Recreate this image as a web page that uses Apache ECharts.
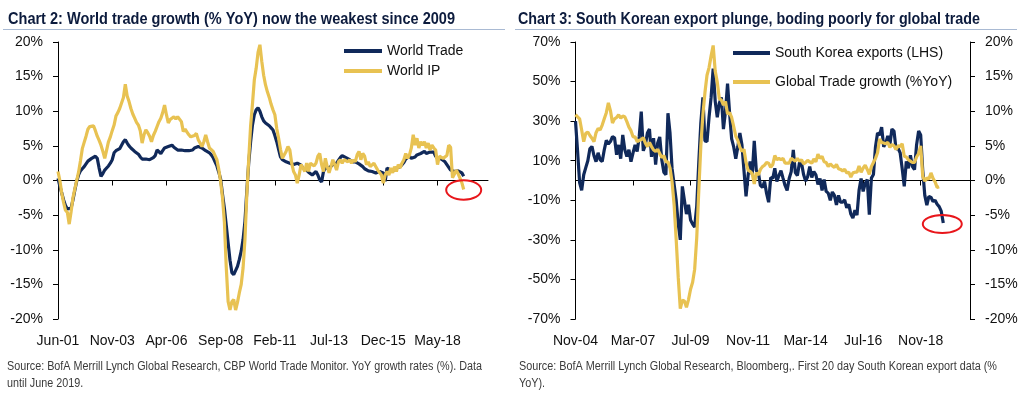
<!DOCTYPE html>
<html><head><meta charset="utf-8">
<script src="https://cdn.jsdelivr.net/npm/echarts@6/dist/echarts.min.js"></script>
<style>html,body{margin:0;padding:0;background:#fff}#c{width:1024px;height:397px}</style>
</head><body><div id="c"></div>
<script>
// ---- Chart 2 data (monthly, from Jun-01) ----
const worldTrade = [0.3,-0.8,-1.8,-2.8,-3.6,-4.1,-4.2,-4.0,-2.8,-1.4,
-0.1,0.8,1.4,1.7,2.0,2.4,2.8,3.0,3.2,3.3,
3.5,3.2,1.8,0.6,1.0,1.5,1.8,2.1,2.5,3.0,
4.0,4.3,4.4,4.6,4.8,5.6,5.9,5.4,5.0,4.7,
4.5,4.2,4.0,3.8,3.4,3.1,3.0,3.1,3.2,3.0,
3.1,3.3,3.6,4.4,4.2,3.9,4.3,4.7,4.8,4.9,
5.0,5.1,4.8,4.6,4.4,4.4,4.4,4.3,4.3,4.4,
4.3,4.2,4.4,4.7,4.8,4.9,4.8,4.7,4.5,4.3,
4.1,4.0,3.7,3.3,2.7,2.1,1.2,0.2,-2.0,-4.0,
-6.5,-9.0,-11.5,-13.3,-13.6,-13.5,-12.4,-11.4,-10.2,-8.5,
-5.9,-1.5,2.5,5.5,8.0,9.5,10.2,10.5,10.0,9.2,
8.6,8.3,8.2,7.9,7.6,7.3,6.5,5.6,4.5,3.4,
3.0,2.9,2.7,2.6,2.5,2.4,2.3,2.5,2.5,2.3,
2.2,1.8,1.6,1.5,1.2,1.0,0.8,1.0,1.3,0.8,
0.1,-0.2,1.3,1.8,2.0,1.8,2.0,2.3,2.4,2.5,
2.9,3.3,3.6,3.7,3.3,3.1,3.0,2.7,2.5,2.7,
2.6,2.4,2.2,2.0,1.7,1.5,1.4,1.3,1.3,1.2,
1.1,1.2,1.3,1.2,1.1,-0.1,1.8,1.6,1.5,1.3,
1.5,1.8,1.9,2.0,2.3,2.6,3.1,3.3,3.5,3.2,
3.0,3.4,3.7,3.8,3.9,4.1,4.2,3.9,4.0,4.1,
4.2,4.1,3.5,3.2,3.2,3.1,3.0,2.7,2.3,1.9,
1.5,1.3,1.3,1.3,1.4,1.4,1.1,0.6];
const worldIP = [1.3,0.0,-1.8,-3.2,-4.3,-4.6,-6.3,-4.5,-2.5,-1.2,
0.0,1.2,2.8,4.6,5.5,6.4,7.4,7.8,8.0,7.9,
7.2,6.4,5.8,5.1,4.2,3.2,4.4,5.6,6.3,7.2,
8.0,9.3,9.8,10.4,11.2,12.0,13.9,12.2,11.4,10.4,
9.6,9.0,8.4,8.0,7.2,5.4,6.6,7.3,6.9,6.4,
5.6,6.5,7.1,7.8,8.5,9.0,9.8,10.9,9.5,8.3,
8.8,9.0,9.2,8.9,9.2,9.4,8.5,7.1,7.4,7.0,
6.6,6.3,6.1,6.5,6.8,5.9,5.4,4.9,5.6,6.6,
5.6,4.7,4.5,4.2,3.6,3.0,1.6,-0.2,-2.5,-6.0,
-12.5,-17.5,-18.7,-17.5,-17.2,-18.7,-17.6,-16.2,-15.0,-12.6,
-8.5,-2.0,3.0,7.8,11.0,14.5,16.2,18.5,19.6,17.2,
15.2,13.8,12.8,12.0,11.0,10.2,9.5,7.5,6.1,4.5,
3.2,3.0,4.2,4.9,4.4,2.5,1.3,0.8,-0.4,0.8,
2.3,1.8,1.3,2.5,1.3,2.5,2.7,2.1,2.5,3.5,
3.9,2.3,1.3,3.2,2.0,1.1,2.0,3.0,2.3,1.5,
2.7,3.0,2.5,3.0,3.2,2.7,3.0,2.5,3.0,2.7,
3.7,4.2,3.0,3.9,3.5,2.3,2.7,2.0,1.8,2.5,
2.0,1.5,1.3,0.8,-0.4,0.8,1.3,0.8,1.8,1.1,
2.0,1.3,2.3,1.8,2.5,3.0,3.9,3.2,3.7,4.7,
6.6,5.1,6.1,4.7,5.6,5.1,5.6,4.7,5.4,4.4,
5.1,4.7,4.4,2.3,3.5,3.7,3.2,3.0,3.6,5.1,
4.8,0.4,0.9,1.5,1.0,0.8,-0.3,-1.3];

// ---- Chart 3 data (monthly, from Nov-04) ----
const koreaExports = [30,15,-1,-5,2.9,6.5,10,16,17.2,12.5,
9.5,14,10.5,9.6,15.5,20.3,18.5,19.7,22.2,21.6,
13,18,11,23,15.5,12.1,15.5,9.5,14,18,
14.6,22,34.8,15,18,24,26,12,21.4,8,
19,22,10.4,4.2,2.9,34,24,6,-2,-10,
-22,-30,-3,-10,-17,-12.3,-20,-22,-23.5,-13,
9,29,42,20,19.7,32,42,56.5,40,32,
39,42,26,35,49,34,21,17,11,17,
24,18,5,-8,2.5,9.6,3,20,5,4,
-2.5,-3.5,-0.5,-6.5,-11,1.5,1,6.2,-0.5,2.5,
5,1.2,-2.5,-5,1,4.5,15.5,4,2.5,9,
8.8,3,-0.3,2,7,1.5,4.5,2.9,-2,1,
-5,0.5,-5.5,-6.4,-10,-5.8,-7.5,-12.3,-7.5,-11,
-11,-9.8,-13.8,-12,-17,-19,-15,-17.5,-5,1,
-5.5,-1.5,0.5,-17.3,1.2,3,17,24,23,27,
17,19,22.5,18,26,25,16,16.3,14,6,
-3,9.6,6.2,12.8,7,5.5,18,25,23,5,
-7.5,-12.5,-8,-8.5,-10.6,-10,-12,-13.2,-15.5,-21.5];
const globalTrade = [9.5,9.2,8.9,7.3,5.6,6.8,7.0,6.5,6.1,5.6,
6.9,7.5,7.3,8.0,8.9,9.8,11.2,10.1,8.3,8.9,
9.1,9.5,9.0,9.3,9.2,8.5,7.7,7.2,6.3,6.3,
5.6,5.8,5.9,6.2,5.4,4.9,5.5,4.9,4.4,4.2,
4.5,3.9,3.3,3.6,2.7,2.7,1.8,-0.2,-3.5,-8.5,
-14,-18.5,-17.3,-17.4,-18.3,-17.2,-15.7,-14.7,-12.8,-8.3,
-1.5,5.0,9.5,12.7,15.2,16.3,18.0,19.5,15.8,14.2,
11.8,11.6,10.9,11.4,9.6,9.8,9.1,7.8,6.4,5.8,
4.8,4.2,4.5,2.6,1.5,1.3,1.0,-0.5,1.1,0.8,
1.6,2.0,2.2,2.6,2.5,1.9,2.3,3.6,3.0,3.2,
3.0,3.2,2.5,2.5,2.5,3.2,3.0,2.8,3.2,2.8,
3.0,2.4,2.6,2.9,2.7,2.5,3.1,2.7,3.8,3.2,
3.5,2.7,2.6,2.0,2.4,2.1,1.9,2.3,1.7,1.6,
1.4,1.6,1.1,1.2,0.5,1.1,1.2,1.2,2.1,1.2,
1.8,2.2,1.6,0.9,2.0,2.6,3.2,4.0,6.0,5.5,
5.4,5.3,5.5,4.8,5.2,5.0,4.5,5.0,4.9,5.3,
3.5,3.4,3.0,2.8,2.6,2.6,3.4,3.9,5.0,0.6,
-0.1,0.4,0.2,1.1,0.3,-0.2,-1.0,-0.9];

// ---- Axis categories / labels ----
const monthNames = ['Jan','Feb','Mar','Apr','May','Jun','Jul','Aug','Sep','Oct','Nov','Dec'];
function monthCats(year, month, count) {
  const out = [];
  for (let k = 0; k < count; k++) {
    const t = (month - 1) + k;
    const y = year + Math.floor(t / 12);
    out.push(monthNames[t % 12] + '-' + String(y % 100).padStart(2, '0'));
  }
  return out;
}
const cats2 = monthCats(2001, 6, 231);   // Jun-01 .. Aug-20
const cats3 = monthCats(2004, 11, 193);  // Nov-04 .. Nov-20
const titles = ['Chart 2: World trade growth (% YoY) now the weakest since 2009',
                'Chart 3: South Korean export plunge, boding poorly for global trade'];
const sources2 = ['Source: BofA Merrill Lynch Global Research, CBP World Trade Monitor. YoY growth rates (%). Data', 'until June 2019.'];
const sources3 = ['Source: BofA Merrill Lynch Global Research, Bloomberg,. First 20 day South Korean export data (%', 'YoY).'];
const legend2 = ['World Trade', 'World IP'];
const legend3 = ['South Korea exports (LHS)', 'Global Trade growth (%YoY)'];

const NAVY = '#10295a', GOLD = '#e8c252', AXIS = '#000';
const SANS = '"Liberation Sans", Arial, sans-serif';
const LBL = {fontFamily: SANS, fontSize: 14, color: '#111'};

// condensed look: measure natural width, then squeeze horizontally to the reference width
const mctx = document.createElement('canvas').getContext('2d');
function squeeze(text, font, target) {
  mctx.font = font;
  return Math.min(1, target / mctx.measureText(text).width);
}

function yAx(grid, min, max, interval, pos) {
  return {type: 'value', gridIndex: grid, position: pos, min: min, max: max, interval: interval,
    axisLine: {show: true, onZero: false, lineStyle: {color: AXIS, width: 1}},
    axisTick: {show: true, length: 5, lineStyle: {color: AXIS}},
    axisLabel: Object.assign({formatter: '{value}%', margin: 15}, LBL),
    splitLine: {show: false}};
}
function xLabelAx(grid, cats, interval) {
  return {type: 'category', gridIndex: grid, data: cats, boundaryGap: false, position: 'bottom',
    axisLine: {show: false, onZero: false}, axisTick: {show: false},
    axisLabel: Object.assign({interval: interval, margin: 15}, LBL), splitLine: {show: false}};
}
function xZeroAx(grid, cats, interval) {
  return {type: 'category', gridIndex: grid, data: cats, boundaryGap: false, position: 'top',
    axisLine: {show: true, onZero: true, lineStyle: {color: AXIS, width: 1}},
    axisTick: {show: true, inside: true, interval: interval, length: 5, lineStyle: {color: AXIS}},
    axisLabel: {show: false}, splitLine: {show: false}};
}
function lineSeries(name, xi, yi, data, color) {
  return {name: name, type: 'line', xAxisIndex: xi, yAxisIndex: yi, data: data, showSymbol: false,
    symbol: 'none', lineStyle: {color: color, width: 3.2}, itemStyle: {color: color},
    emphasis: {disabled: true}, animation: false};
}
function legendBox(names, left, top, w, gap) {
  return {data: names, orient: 'vertical', left: left, top: top, padding: 0, itemWidth: w, itemHeight: 4,
    itemGap: gap, icon: 'rect', selectedMode: false, textStyle: Object.assign({lineHeight: 16}, LBL)};
}
function titleText(id, text, x, target) {
  const font = 'bold 16px ' + SANS;
  return {id: id, type: 'text', x: x, y: 19.5, scaleX: squeeze(text, font, target),
    style: {text: text, fontFamily: SANS, fontWeight: 'bold', fontSize: 16, fill: '#0c1b3d', textVerticalAlign: 'middle'}};
}
function sourceText(id, text, x, y, scale) {
  return {id: id, type: 'text', x: x, y: y, scaleX: scale,
    style: {text: text, fontFamily: SANS, fontSize: 12, fill: '#3a3a3a', textVerticalAlign: 'middle'}};
}
const srcFont = '12px ' + SANS;
const sc2 = squeeze(sources2[0], srcFont, 475);
const sc3 = squeeze(sources3[0], srcFont, 478);

const chart = echarts.init(document.getElementById('c'), null, {renderer: 'canvas'});
const option = {
  animation: false,
  backgroundColor: '#fff',
  legend: [legendBox(legend2, 344, 43, 38, 4), legendBox(legend3, 733, 45, 37, 13)],
  grid: [
    {left: 58, top: 42, width: 430, height: 277, outerBoundsMode: 'none', containLabel: false},
    {left: 575.5, top: 42, width: 394.5, height: 277, outerBoundsMode: 'none', containLabel: false}
  ],
  xAxis: [xLabelAx(0, cats2, 28), xZeroAx(0, cats2, 28), xLabelAx(1, cats3, 27), xZeroAx(1, cats3, 27)],
  yAxis: [yAx(0, -20, 20, 5, 'left'), yAx(1, -70, 70, 20, 'left'), yAx(1, -20, 20, 5, 'right')],
  series: [
    lineSeries(legend2[0], 0, 0, worldTrade, NAVY),
    lineSeries(legend2[1], 0, 0, worldIP, GOLD),
    lineSeries(legend3[0], 2, 1, koreaExports, NAVY),
    lineSeries(legend3[1], 2, 2, globalTrade, GOLD)
  ],
  graphic: [
    titleText('t1', titles[0], 8, 447),
    titleText('t2', titles[1], 518, 462),
    {id: 'rule1', type: 'line', shape: {x1: 3, y1: 29.5, x2: 505, y2: 29.5}, style: {stroke: '#a9bad3', lineWidth: 1}},
    {id: 'rule2', type: 'line', shape: {x1: 515, y1: 29.5, x2: 1017, y2: 29.5}, style: {stroke: '#a9bad3', lineWidth: 1}},
    sourceText('s1a', sources2[0], 7, 367, sc2),
    sourceText('s1b', sources2[1], 7, 384, sc2),
    sourceText('s2a', sources3[0], 519, 367, sc3),
    sourceText('s2b', sources3[1], 519, 384, sc3)
  ]
};
chart.setOption(option);

// red annotation ellipses anchored on the last data points
const pA = chart.convertToPixel({seriesIndex: 1}, [worldIP.length - 1, worldIP[worldIP.length - 1]]);
const pB = chart.convertToPixel({seriesIndex: 2}, [koreaExports.length - 1, koreaExports[koreaExports.length - 1]]);
chart.setOption({graphic: [
  {id: 'ell1', type: 'ellipse', shape: {cx: pA[0], cy: pA[1] + 0.5, rx: 17.5, ry: 9.7}, style: {fill: 'none', stroke: '#e8161b', lineWidth: 2}, z: 100},
  {id: 'ell2', type: 'ellipse', shape: {cx: pB[0] - 1, cy: pB[1] + 1, rx: 19.5, ry: 9}, style: {fill: 'none', stroke: '#e8161b', lineWidth: 2}, z: 100}
]});
</script>
</body></html>
